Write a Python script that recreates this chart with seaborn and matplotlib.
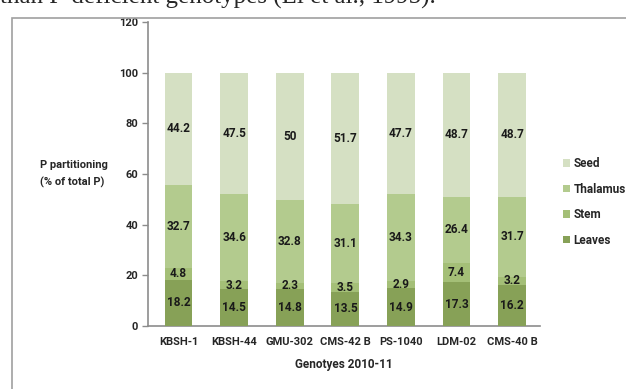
import pandas as pd
import matplotlib.pyplot as plt
import seaborn as sns
from matplotlib.patches import Rectangle

# Data
genotypes = ['KBSH-1', 'KBSH-44', 'GMU-302', 'CMS-42 B', 'PS-1040', 'LDM-02', 'CMS-40 B']
leaves = [18.2, 14.5, 14.8, 13.5, 14.9, 17.3, 16.2]
stem = [4.8, 3.2, 2.3, 3.5, 2.9, 7.4, 3.2]
thalamus = [32.7, 34.6, 32.8, 31.1, 34.3, 26.4, 31.7]
seed = [44.2, 47.5, 50, 51.7, 47.7, 48.7, 48.7]
seed_labels = ['44.2', '47.5', '50', '51.7', '47.7', '48.7', '48.7']

parts = ['Leaves', 'Stem', 'Thalamus', 'Seed']
colors = {'Leaves': '#87a157', 'Stem': '#a4bf77', 'Thalamus': '#b3cb8e', 'Seed': '#d5e0c3'}

df = pd.DataFrame({'genotype': genotypes, 'Leaves': leaves, 'Stem': stem,
                   'Thalamus': thalamus, 'Seed': seed})

sns.set_style('white')
plt.rcParams['font.family'] = ['Roboto', 'DejaVu Sans']

fig = plt.figure(figsize=(6.26, 3.89), dpi=100)
ax = fig.add_axes([148 / 626, 63 / 389, 392 / 626, 304 / 389])

# frame of the embedded figure and clipped caption line above it
fig.patches.append(Rectangle((12 / 626, -0.1), 1.0, (389 - 18) / 389 + 0.1,
                             transform=fig.transFigure, fill=False,
                             edgecolor='#a0a0a0', linewidth=1.2))
fig.text(0.0, 1.008, 'than P-deficient genotypes (Li et al., 1995).',
         family='Liberation Serif', fontsize=18, va='center', ha='left')

bottom = [0.0] * len(genotypes)
for part in parts:
    totals = [b + v for b, v in zip(bottom, df[part])]
    sns.barplot(x=df['genotype'], y=totals, color=colors[part], width=0.5,
                ax=ax, zorder=10 - parts.index(part), saturation=1, label=part,
                linewidth=0)
    for i, v in enumerate(df[part]):
        txt = seed_labels[i] if part == 'Seed' else f'{v:g}'
        ax.text(i, bottom[i] + v / 2, txt, ha='center', va='center',
                fontsize=8.5, fontweight='bold', color='#1a1a1a', zorder=20)
    bottom = totals

ax.set_ylim(0, 120)
ax.set_xlim(-0.55, 6.5)
ax.set_yticks(range(0, 121, 20))
ax.tick_params(axis='y', length=4, width=1, color='#8c8c8c', labelsize=8, pad=3, left=True)
ax.tick_params(axis='x', length=0, labelsize=8, pad=8)
for lbl in ax.get_xticklabels() + ax.get_yticklabels():
    lbl.set_fontweight('bold')
for s in ['top', 'right']:
    ax.spines[s].set_visible(False)
for s in ['left', 'bottom']:
    ax.spines[s].set_color('#8c8c8c')
    ax.spines[s].set_linewidth(1.2)

ax.set_xlabel('Genotyes 2010-11', fontsize=8.5, fontweight='bold', labelpad=8)
ax.set_ylabel('')
fig.text(40 / 626, 1 - 174 / 389, 'P partitioning\n(% of total P)', ha='left', va='center',
         fontsize=8, fontweight='bold', linespacing=1.8)

handles, labels = ax.get_legend_handles_labels()
ax.legend(handles[::-1], labels[::-1], loc='center left', bbox_to_anchor=(552 / 626, 1 - 202 / 389),
          bbox_transform=fig.transFigure, frameon=False, prop={'weight': 'bold', 'size': 8.5},
          handlelength=0.6, handleheight=0.6, handletextpad=0.3, labelspacing=1.05)

fig.savefig('out.png', dpi=100)
